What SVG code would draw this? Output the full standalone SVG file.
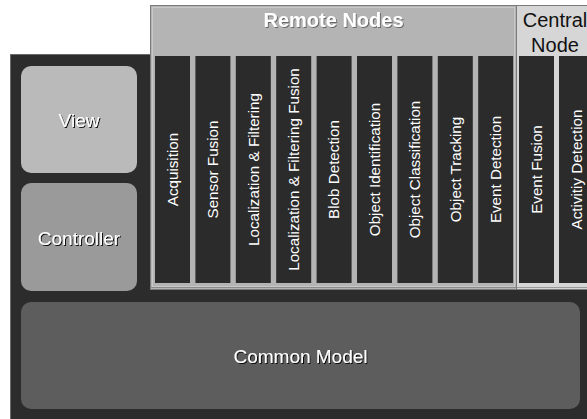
<svg xmlns="http://www.w3.org/2000/svg" width="587" height="419" viewBox="0 0 587 419">
  <defs>
    <filter id="sh" x="-10%" y="-30%" width="130%" height="160%">
      <feDropShadow dx="1" dy="1" stdDeviation="0.4" flood-color="#000" flood-opacity="0.9"/>
    </filter>
    <filter id="shl" x="-10%" y="-30%" width="130%" height="160%">
      <feDropShadow dx="1" dy="1" stdDeviation="0.5" flood-color="#555" flood-opacity="0.8"/>
    </filter>
  </defs>
  <style>
    .bg { fill: #2c2c2c; stroke: #6a6a6a; stroke-width: 1; }
    .box { stroke: none; }
    .lbl { font-family: "Liberation Sans", Arial, sans-serif; font-size: 19px; fill: #ffffff; text-anchor: middle; filter: url(#sh); }
    .col { fill: #2b2b2b; }
    .ct { font-family: "Liberation Sans", Arial, sans-serif; font-size: 15.2px; fill: #ffffff; text-anchor: middle; }
    .hdr { font-family: "Liberation Sans", Arial, sans-serif; font-size: 20px; text-anchor: middle; }
  </style>

  <rect class="bg" x="10.5" y="54.5" width="590" height="380"/>

  <g id="view">
    <rect class="box" x="21" y="66" width="116" height="107" rx="10" fill="#bababa"/>
    <text class="lbl" x="79" y="127">View</text>
  </g>

  <g id="controller">
    <rect class="box" x="21" y="183" width="116" height="108" rx="10" fill="#9a9a9a"/>
    <text class="lbl" x="79" y="245">Controller</text>
  </g>

  <g id="common-model">
    <rect class="box" x="21" y="302" width="559" height="107" rx="10" fill="#5d5d5d"/>
    <text class="lbl" x="300.5" y="363">Common Model</text>
  </g>

  <g id="remote-nodes">
    <rect x="150.5" y="5.5" width="366" height="284" fill="#b4b4b4" stroke="#7a7a7a"/>
    <rect x="152.5" y="7.5" width="362" height="279" fill="none" stroke="#c8c8c8" stroke-width="1"/>
    <line x1="150" y1="287.5" x2="517" y2="287.5" stroke="#8a8a8a"/>
    <text class="hdr" x="333.5" y="27" font-weight="bold" fill="#ffffff" filter="url(#shl)">Remote Nodes</text>
  </g>

  <g id="central-node">
    <rect x="516.5" y="5.5" width="90" height="284" fill="#d6d6d6" stroke="#7a7a7a"/>
    <line x1="517" y1="287.5" x2="587" y2="287.5" stroke="#9a9a9a"/>
    <text class="hdr" x="555" y="27" fill="#111111">Central</text>
    <text class="hdr" x="555" y="52" fill="#111111">Node</text>
  </g>

  <g id="acquisition">
    <rect class="col" x="155" y="56" width="35" height="227"/>
    <text class="ct" transform="translate(177.8 169.5) rotate(-90)">Acquisition</text>
  </g>
  <g id="sensor-fusion">
    <rect class="col" x="195.4" y="56" width="35" height="227"/>
    <text class="ct" transform="translate(218.2 169.5) rotate(-90)">Sensor Fusion</text>
  </g>
  <g id="localization-filtering">
    <rect class="col" x="235.8" y="56" width="35" height="227"/>
    <text class="ct" transform="translate(258.6 169.5) rotate(-90)">Localization &amp; Filtering</text>
  </g>
  <g id="localization-filtering-fusion">
    <rect class="col" x="276.2" y="56" width="35" height="227"/>
    <text class="ct" transform="translate(299 169.5) rotate(-90)">Localization &amp; Filtering Fusion</text>
  </g>
  <g id="blob-detection">
    <rect class="col" x="316.6" y="56" width="35" height="227"/>
    <text class="ct" transform="translate(339.4 169.5) rotate(-90)">Blob Detection</text>
  </g>
  <g id="object-identification">
    <rect class="col" x="357" y="56" width="35" height="227"/>
    <text class="ct" transform="translate(379.8 169.5) rotate(-90)">Object Identification</text>
  </g>
  <g id="object-classification">
    <rect class="col" x="397.4" y="56" width="35" height="227"/>
    <text class="ct" transform="translate(420.2 169.5) rotate(-90)">Object Classification</text>
  </g>
  <g id="object-tracking">
    <rect class="col" x="437.8" y="56" width="35" height="227"/>
    <text class="ct" transform="translate(460.6 169.5) rotate(-90)">Object Tracking</text>
  </g>
  <g id="event-detection">
    <rect class="col" x="478.2" y="56" width="35" height="227"/>
    <text class="ct" transform="translate(501 169.5) rotate(-90)">Event Detection</text>
  </g>
  <g id="event-fusion">
    <rect class="col" x="519" y="56" width="35" height="227"/>
    <text class="ct" transform="translate(541.8 169.5) rotate(-90)">Event Fusion</text>
  </g>
  <g id="activity-detection">
    <rect class="col" x="559" y="56" width="35" height="227"/>
    <text class="ct" transform="translate(581.8 169.5) rotate(-90)">Activitiy Detection</text>
  </g>

  <g id="connectors"></g>
</svg>
